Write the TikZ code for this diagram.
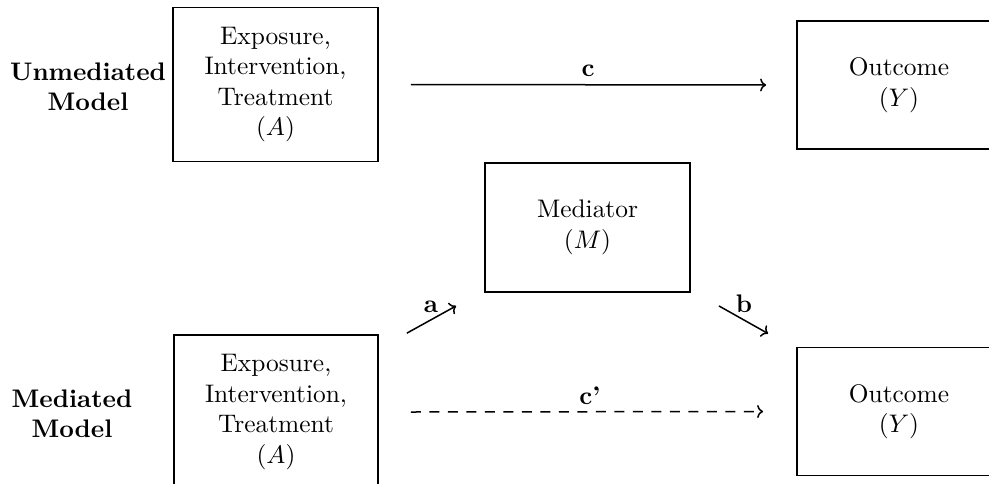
\documentclass[tikz,border=0pt]{standalone}
\usetikzlibrary{arrows.meta}
\begin{document}
\begin{tikzpicture}[x=1pt,y=-1pt,
  txt/.style={scale=2.54,transform shape,font=\fontsize{10pt}{12pt}\selectfont},
  box/.style={txt,draw,line width=1.5pt,align=center,inner sep=0pt},
  lbl/.style={txt,align=center,font=\fontsize{10pt}{12pt}\selectfont\bfseries},
  conn/.style={line width=1.5pt,-{To[length=6pt,width=13pt]}}]
\useasboundingbox (0,0) rectangle (989,483);
\node[box,minimum width=80.7pt,minimum height=60.6pt] (A1) at (275.5,84.5) {Exposure,\\Intervention,\\Treatment\\$(A)$};
\node[box,minimum width=80.3pt,minimum height=50.4pt] (Y1) at (899,85) {Outcome\\$(Y)$};
\node[box,minimum width=80.7pt,minimum height=50.8pt] (M) at (587.5,227.5) {Mediator\\$(M)$};
\node[box,minimum width=80.3pt,minimum height=60.6pt] (A2) at (276,412) {Exposure,\\Intervention,\\Treatment\\$(A)$};
\node[box,minimum width=80.3pt,minimum height=50.4pt] (Y2) at (899,411.5) {Outcome\\$(Y)$};
\node[lbl] (LU) at (88,87) {Unmediated\\Model};
\node[lbl] (LM) at (72,414) {Mediated\\Model};
\draw[conn] ([xshift=31pt]A1.east) -- ([xshift=-29pt]Y1.west);
\draw[conn,dash pattern=on 10pt off 8.5pt] ([xshift=31pt]A2.east) -- ([xshift=-32pt]Y2.west);
\coordinate (a0) at ([xshift=27pt]A2.north east);
\coordinate (a1) at ([shift={(-27pt,-12pt)}]M.south west);
\coordinate (b0) at ([shift={(27pt,-12pt)}]M.south east);
\coordinate (b1) at ([shift={(-27pt,12pt)}]Y2.north west);
\draw[conn] (a0) -- (a1);
\draw[conn] (b0) -- (b1);
\node[lbl,anchor=base,inner sep=0pt] (c) at (588,76) {c};
\node[lbl,anchor=base,inner sep=0pt] (cp) at (590,404) {c'};
\node[lbl,anchor=base,inner sep=0pt] (la) at (431,312) {a};
\node[lbl,anchor=base,inner sep=0pt] (lb) at (744,312) {b};
\end{tikzpicture}
\end{document}
